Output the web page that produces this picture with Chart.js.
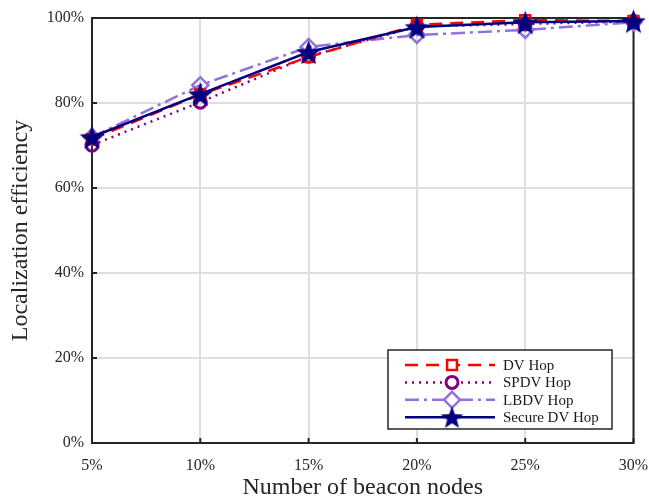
<!DOCTYPE html>
<html>
<head>
<meta charset="utf-8">
<script src="https://cdn.jsdelivr.net/npm/chart.js@4/dist/chart.umd.min.js"></script>
<style>
  html, body { margin: 0; padding: 0; background: #fff; }
  #wrap { width: 649px; height: 498px; }
</style>
</head>
<body>
<div id="wrap"><canvas id="chart" width="649" height="498"></canvas></div>
<script>
const beaconPct = [5, 10, 15, 20, 25, 30];
const dvHop = [71.5, 82, 90.8, 98.4, 99.5, 99.3];
const spdvHop = [70.1, 80.2, 91, 98, 98.6, 99.2];
const lbdvHop = [72, 84.2, 93.2, 96, 97.2, 99];
const secureDvHop = [72, 82.1, 92, 97.9, 99, 99.3];
const yTicks = [0, 20, 40, 60, 80, 100];

const serif = '"Liberation Serif", "DejaVu Serif", serif';

// filled five-point star for the Secure DV Hop marker
function makeStar(size, color) {
    const c = document.createElement('canvas');
    c.width = size; c.height = size;
    const ctx = c.getContext('2d');
    const cx = size / 2, cy = size / 2 + 1.5;
    const outer = size / 2 - 0.5, inner = outer * 0.42;
    ctx.beginPath();
    for (let i = 0; i < 10; i++) {
        const r = i % 2 === 0 ? outer : inner;
        const a = -Math.PI / 2 + i * Math.PI / 5;
        const px = cx + r * Math.cos(a), py = cy + r * Math.sin(a);
        if (i === 0) ctx.moveTo(px, py); else ctx.lineTo(px, py);
    }
    ctx.closePath();
    ctx.fillStyle = color;
    ctx.fill();
    return c;
}
const starImg = makeStar(27, '#000080');
const starSmall = makeStar(25, '#000080');

function pts(arr) {
    return arr.map((v, i) => ({ x: beaconPct[i], y: v }));
}

const frameAndLegend = {
    id: 'frameAndLegend',
    beforeDatasetsDraw(chart) {
        const { ctx, chartArea: a } = chart;
        ctx.save();
        ctx.strokeStyle = '#262626';
        ctx.lineWidth = 2;
        ctx.strokeRect(a.left, a.top, a.right - a.left, a.bottom - a.top);
        ctx.restore();
    },
    afterDatasetsDraw(chart) {
        const { ctx, chartArea: a, scales } = chart;
        ctx.save();
        // inward tick marks
        ctx.strokeStyle = '#262626';
        ctx.lineWidth = 2;
        ctx.beginPath();
        beaconPct.forEach(v => {
            const x = scales.x.getPixelForValue(v);
            ctx.moveTo(x, a.bottom); ctx.lineTo(x, a.bottom - 5);
        });
        yTicks.forEach(v => {
            const y = scales.y.getPixelForValue(v);
            ctx.moveTo(a.left, y); ctx.lineTo(a.left + 5, y);
        });
        ctx.moveTo(a.left, a.bottom); ctx.lineTo(a.right, a.bottom);
        ctx.stroke();

        // legend box
        const bx = 388, by = 350, bw = 224, bh = 79;
        ctx.fillStyle = '#fff';
        ctx.fillRect(bx, by, bw, bh);
        ctx.lineWidth = 1.5;
        ctx.strokeStyle = '#262626';
        ctx.strokeRect(bx, by, bw, bh);
        ctx.textBaseline = 'middle';
        chart.data.datasets.forEach((ds, i) => {
            const y = by + 15 + i * 17.4;
            ctx.save();
            ctx.strokeStyle = ds.borderColor;
            ctx.lineWidth = ds.borderWidth;
            ctx.setLineDash(ds.borderDash || []);
            ctx.beginPath();
            ctx.moveTo(bx + 17, y); ctx.lineTo(bx + 107, y);
            ctx.stroke();
            ctx.setLineDash([]);
            const mx = bx + 64;
            if (ds.pointStyle instanceof HTMLCanvasElement) {
                ctx.drawImage(starSmall, mx - 12.5, y - 13);
            } else {
                ctx.lineWidth = ds.pointBorderWidth;
                ctx.strokeStyle = ds.borderColor;
                ctx.fillStyle = '#fff';
                Chart.helpers.drawPoint(ctx, {
                    pointStyle: ds.pointStyle, radius: ds.pointRadius, borderWidth: ds.pointBorderWidth
                }, mx, y);
            }
            ctx.restore();
            ctx.fillStyle = '#1a1a1a';
            ctx.font = '15px ' + serif;
            ctx.fillText(ds.label, bx + 115, y + 1);
        });
        ctx.restore();
    }
};

new Chart(document.getElementById('chart'), {
    type: 'line',
    data: {
        datasets: [
            {
                label: 'DV Hop', data: pts(dvHop), order: 1, clip: false,
                borderColor: '#ff0000', backgroundColor: 'rgba(255,255,255,0)',
                borderWidth: 2.5, borderDash: [13, 8],
                pointStyle: 'rect', pointRadius: 7, pointBorderWidth: 2.5, pointBackgroundColor: 'rgba(0,0,0,0)'
            },
            {
                label: 'SPDV Hop', data: pts(spdvHop), order: 2, clip: false,
                borderColor: '#800080', backgroundColor: 'rgba(255,255,255,0)',
                borderWidth: 2.5, borderDash: [2, 5],
                pointStyle: 'circle', pointRadius: 6, pointBorderWidth: 3, pointBackgroundColor: 'rgba(0,0,0,0)'
            },
            {
                label: 'LBDV Hop', data: pts(lbdvHop), order: 3, clip: false,
                borderColor: '#9370db', backgroundColor: 'rgba(255,255,255,0)',
                borderWidth: 2.5, borderDash: [14, 5, 3, 5],
                pointStyle: 'rectRot', pointRadius: 8, pointBorderWidth: 2.5, pointBackgroundColor: 'rgba(0,0,0,0)'
            },
            {
                label: 'Secure DV Hop', data: pts(secureDvHop), order: 0, clip: false,
                borderColor: '#000080', backgroundColor: '#000080',
                borderWidth: 2.5,
                pointStyle: starImg, pointRadius: 13
            }
        ]
    },
    options: {
        responsive: false,
        animation: false,
        layout: { padding: { top: 18, right: 13, left: 0, bottom: 0 } },
        plugins: { legend: { display: false }, tooltip: { enabled: false } },
        scales: {
            x: {
                type: 'linear', min: 5, max: 30,
                afterFit: s => { s.height = 55; s.paddingRight = 0; s.paddingLeft = 0; },
                afterBuildTicks: s => { s.ticks = beaconPct.map(v => ({ value: v })); },
                ticks: { color: '#262626', font: { family: serif, size: 16 }, padding: 13, callback: v => v + '%' },
                grid: { color: '#dedede', lineWidth: 2, drawTicks: false },
                border: { display: false },
                title: { display: true, text: 'Number of beacon nodes', color: '#262626', font: { family: serif, size: 24 }, padding: { top: 0, bottom: -4 } }
            },
            y: {
                min: 0, max: 100,
                afterFit: s => { s.width = 92; s.paddingTop = 0; s.paddingBottom = 0; },
                afterBuildTicks: s => { s.ticks = yTicks.map(v => ({ value: v })); },
                ticks: { color: '#262626', font: { family: serif, size: 16 }, padding: 8, callback: v => v + '%' },
                grid: { color: '#dedede', lineWidth: 2, drawTicks: false },
                border: { display: false },
                title: { display: true, text: 'Localization efficiency', color: '#262626', font: { family: serif, size: 24 }, padding: { top: 6, bottom: 6 } }
            }
        }
    },
    plugins: [frameAndLegend]
});
</script>
</body>
</html>
